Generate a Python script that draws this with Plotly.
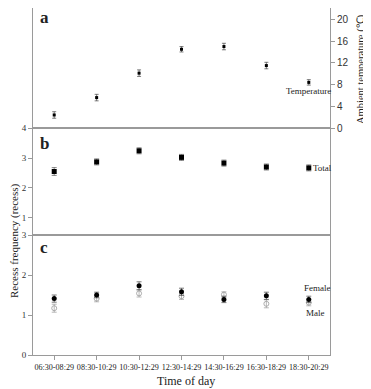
import plotly.graph_objects as go

categories = ["06:30-08:29", "08:30-10:29", "10:30-12:29", "12:30-14:29",
              "14:30-16:29", "16:30-18:29", "18:30-20:29"]
temperature = [2.4, 5.6, 10.1, 14.5, 15.0, 11.5, 8.4]
temperature_err = [0.6, 0.6, 0.6, 0.5, 0.6, 0.6, 0.5]
total = [2.55, 2.87, 3.24, 3.02, 2.83, 2.70, 2.67]
total_err = [0.13, 0.10, 0.10, 0.10, 0.10, 0.10, 0.10]
female = [1.41, 1.50, 1.73, 1.58, 1.39, 1.48, 1.39]
female_err = [0.09, 0.07, 0.10, 0.09, 0.08, 0.09, 0.08]
male = [1.17, 1.41, 1.54, 1.47, 1.51, 1.28, 1.31]
male_err = [0.10, 0.08, 0.09, 0.08, 0.07, 0.10, 0.08]

# page body has an 8px margin: figure is drawn 8px smaller, positions shifted
OFF = 8
WIN_W, WIN_H = 371, 389
W, H = WIN_W - OFF, WIN_H - OFF
# plot box in window pixels: x 33..330, y 8..355
L = 33 - OFF
T = 8 - OFF
R = W - (330 - OFF)
B = H - (355 - OFF)
pw = W - L - R
ph = H - T - B

def dom(top_px, bot_px):
    return [(355 - bot_px) / ph, (355 - top_px) / ph]

serif = "Liberation Serif"
sans = "Liberation Sans"
grey = "#9a9a9a"

fig = go.Figure()

fig.add_trace(go.Scatter(
    x=categories, y=temperature, mode="markers",
    marker=dict(symbol="square", size=3, color="black"),
    error_y=dict(type="data", array=temperature_err, color="#444", thickness=0.7, width=2),
    xaxis="x", yaxis="y", showlegend=False))

fig.add_trace(go.Scatter(
    x=categories, y=total, mode="markers",
    marker=dict(symbol="square", size=5, color="black"),
    error_y=dict(type="data", array=total_err, color="#555", thickness=0.7, width=2.5),
    xaxis="x2", yaxis="y2", showlegend=False))

fig.add_trace(go.Scatter(
    x=categories, y=male, mode="markers",
    marker=dict(symbol="circle-open", size=5, color="#999", line=dict(width=0.8)),
    error_y=dict(type="data", array=male_err, color="#999", thickness=0.7, width=2.5),
    xaxis="x3", yaxis="y3", showlegend=False))

fig.add_trace(go.Scatter(
    x=categories, y=female, mode="markers",
    marker=dict(symbol="circle", size=5, color="black"),
    error_y=dict(type="data", array=female_err, color="#444", thickness=0.7, width=2.5),
    xaxis="x3", yaxis="y3", showlegend=False))

xcommon = dict(type="category", categoryorder="array", categoryarray=categories,
               range=[-0.5, 6.5], showline=True, linecolor=grey, linewidth=1,
               mirror=True, showgrid=False, zeroline=False, automargin=False)

fig.update_layout(
    width=W, height=H,
    margin=dict(l=L, r=R, t=T, b=B, pad=0),
    paper_bgcolor="white", plot_bgcolor="white",
    font=dict(family=serif, color="#222"),
    xaxis=dict(**xcommon, anchor="y", showticklabels=False, ticks=""),
    xaxis2=dict(**xcommon, anchor="y2", showticklabels=False, ticks=""),
    xaxis3=dict(**xcommon, anchor="y3", ticks="outside", ticklen=4, tickcolor=grey,
                tickfont=dict(family=serif, size=8.1, color="#222"),
                tickangle=0),
    yaxis=dict(domain=dom(8, 128), anchor="x", side="right", range=[0, 22.1],
               tickvals=[0, 4, 8, 12, 16, 20], ticks="outside", ticklen=4, tickcolor=grey,
               tickfont=dict(family=sans, size=10, color="#333"), automargin=False,
               showline=True, linecolor=grey, mirror=True, showgrid=False, zeroline=False),
    yaxis2=dict(domain=dom(128, 235), anchor="x2", range=[0.433, 4],
                tickvals=[1, 2, 3, 4], ticks="outside", ticklen=4, tickcolor=grey,
                tickfont=dict(family=serif, size=9, color="#333"), automargin=False,
                showline=True, linecolor=grey, mirror=True, showgrid=False, zeroline=False),
    yaxis3=dict(domain=dom(235, 355), anchor="x3", range=[0, 3],
                tickvals=[0, 1, 2, 3], ticks="outside", ticklen=4, tickcolor=grey,
                tickfont=dict(family=serif, size=9, color="#333"), automargin=False,
                showline=True, linecolor=grey, mirror=True, showgrid=False, zeroline=False),
)

ann = []
def pa(text, x, y, size=10, bold=False, xanchor="left", yanchor="middle", angle=0, color="#222"):
    # x, y given in window pixels
    ann.append(dict(text=("<b>%s</b>" % text) if bold else text,
                    x=(x - 33) / pw, y=(355 - y) / ph,
                    xref="paper", yref="paper", showarrow=False, xanchor=xanchor,
                    yanchor=yanchor, textangle=angle,
                    font=dict(family=serif, size=size, color=color)))

pa("a", 38, 17, size=17, bold=True)
pa("b", 38, 143, size=17, bold=True)
pa("c", 38, 248, size=17, bold=True)
pa("Recess frequency (recess)", 14, 241, size=11, xanchor="center", angle=-90)
pa("Ambient temperature (℃)", 361, 69, size=10.5, xanchor="center", angle=-90)
pa("Time of day", 186, 381, size=12, xanchor="center")
pa("Temperature", 284, 91, size=9)
pa("Total", 311, 168, size=9)
pa("Female", 302, 288, size=9)
pa("Male", 304, 313, size=9)
fig.update_layout(annotations=ann)

fig.write_html("out.html")
